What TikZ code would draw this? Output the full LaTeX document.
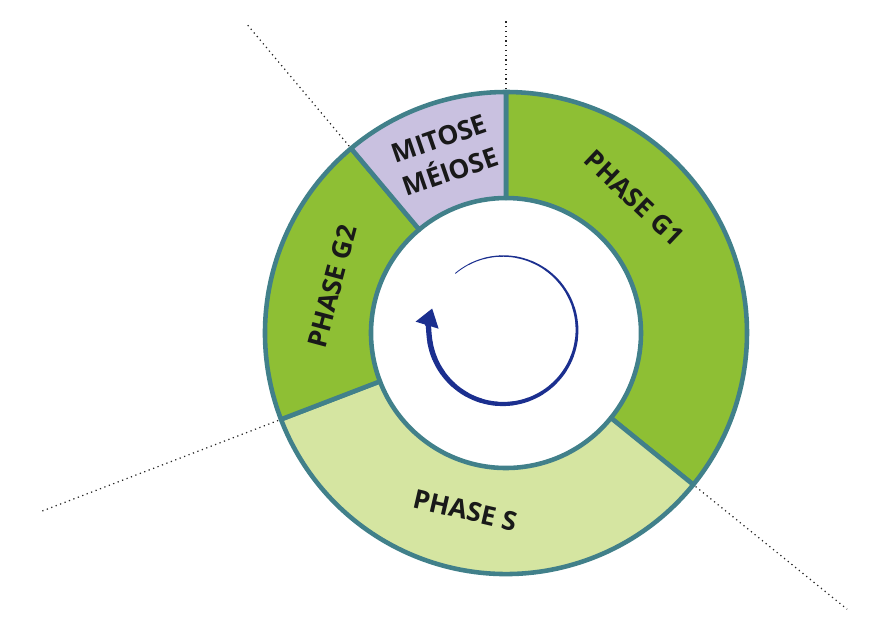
\documentclass[tikz,border=0pt]{standalone}
\usepackage{fontspec}
\usepackage{tikz}
\usetikzlibrary{arrows.meta}
\newfontfamily\phasefont{Open Sans}
\definecolor{rim}{HTML}{41808A}
\definecolor{phaseDark}{HTML}{8EBF34}
\definecolor{phaseLight}{HTML}{D5E5A1}
\definecolor{lilac}{HTML}{C9C1E0}
\definecolor{spinBlue}{HTML}{1B2F8F}

\begin{document}
\begin{tikzpicture}[x=0.02cm,y=0.02cm,>=Latex,
    sector/.style={draw=rim,line width=2.6pt,line join=round},
    guide/.style={dotted,line width=0.7pt,black!85},
    phase/.style={font=\phasefont\bfseries\fontsize{15}{20}\selectfont,align=center,text=black!90},
    spin/.style={spinBlue,line cap=round}]
  \useasboundingbox (-506,-293) rectangle (387,333);
  \coordinate (c) at (0,0);
  \coordinate (topIn) at (90:244);   \coordinate (topOut) at (90:315);
  \coordinate (mitIn) at (130:244);  \coordinate (mitOut) at (130:403);
  \coordinate (sIn) at (201:244);    \coordinate (sOut) at (201:499);
  \coordinate (gIn) at (321:244);    \coordinate (gOut) at (321:439);
  \draw[guide] (topIn)--(topOut);
  \draw[guide] (mitIn)--(mitOut);
  \draw[guide] (sIn)--(sOut);
  \draw[guide] (gIn)--(gOut);
  \filldraw[sector,fill=phaseDark] (90:135)--(90:241) arc[start angle=90,end angle=-39,radius=241]
    --(-39:135) arc[start angle=-39,end angle=90,radius=135]--cycle;
  \filldraw[sector,fill=phaseLight] (201:135)--(201:241) arc[start angle=201,end angle=321,radius=241]
    --(321:135) arc[start angle=321,end angle=201,radius=135]--cycle;
  \filldraw[sector,fill=phaseDark] (130:135)--(130:241) arc[start angle=130,end angle=201,radius=241]
    --(201:135) arc[start angle=201,end angle=130,radius=135]--cycle;
  \filldraw[sector,fill=lilac] (90:135)--(90:241) arc[start angle=90,end angle=130,radius=241]
    --(130:135) arc[start angle=130,end angle=90,radius=135]--cycle;
  \node[phase,rotate=-43.5] (g1) at (46.5:186) {PHASE G1};
  \node[phase,rotate=75] (g2) at (165:180) {PHASE G2};
  \node[phase,rotate=-13] (s) at (257:182) {PHASE S};
  \node[phase,rotate=19] (mit) at (109:188) {MITOSE\\MÉIOSE};
  \foreach \k in {0,...,23}
    \draw[spin,line width=0.5pt+0.11pt*\k] ([shift={(-3,3)}]130-12.5*\k:74)
      arc[start angle=130-12.5*\k,delta angle=-12.5,radius=74];
  \draw[spin,line width=3pt,-{Triangle[length=10pt,width=13pt]}] ([shift={(-3,3)}]-170:74)
    arc[start angle=-170,end angle=-197,radius=74];
\end{tikzpicture}
\end{document}
